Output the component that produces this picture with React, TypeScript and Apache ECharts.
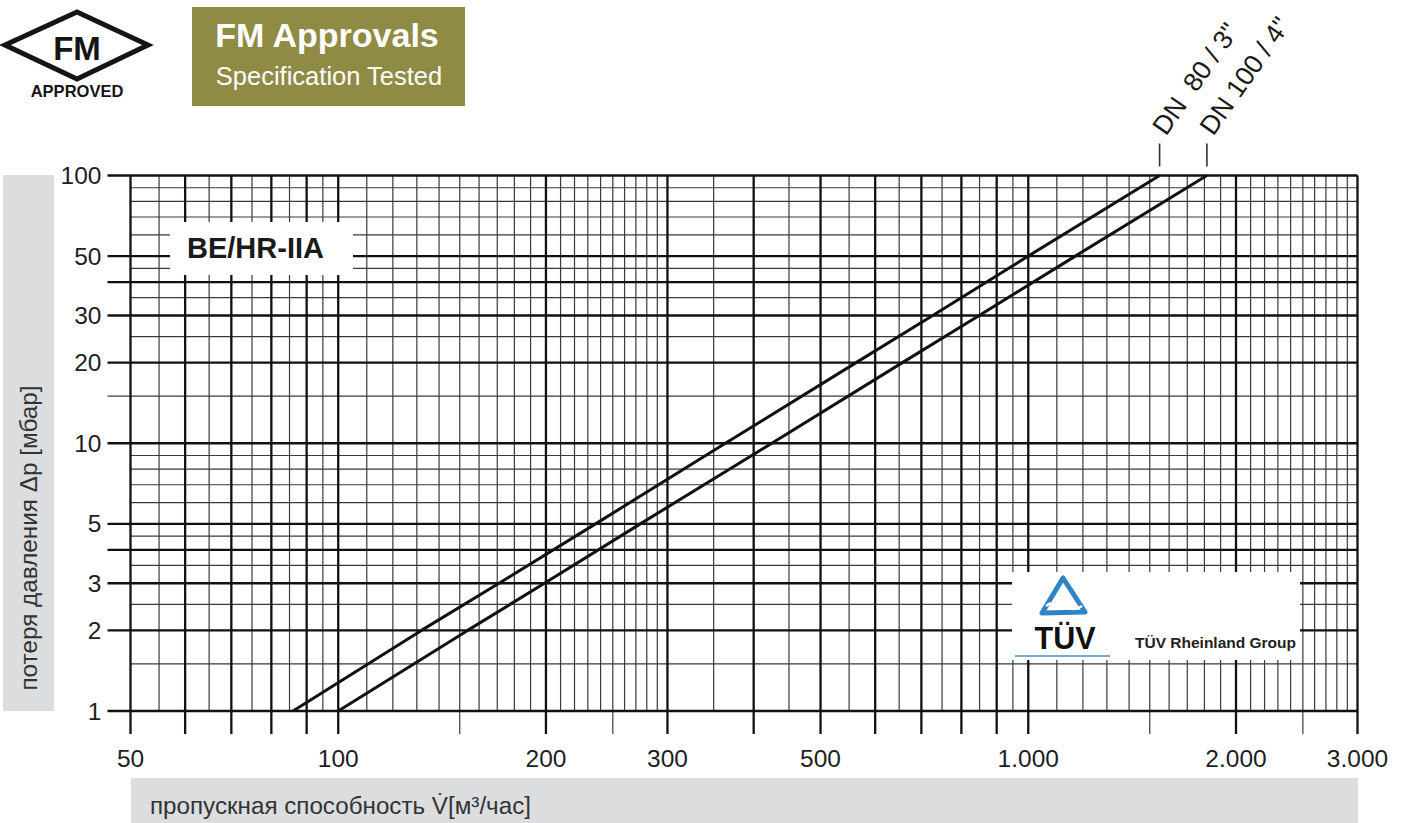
import React, { useEffect, useRef } from 'react';
import * as echarts from 'echarts';

// ---- data ----
const DP_POINTS = [1, 2, 3, 5, 10, 20, 30, 50, 100]; // mbar
const DN80_FLOW = [86, 132, 171, 236, 364, 563, 727, 1000, 1550]; // m3/h
const DN100_FLOW = [100, 154, 199, 274, 425, 657, 849, 1170, 1815]; // m3/h
const SERIES_NAMES = ['DN\u00a0 80 / 3"', 'DN 100 / 4"'];

const X_LABELS = [50, 100, 200, 300, 500, 1000, 2000, 3000];
const Y_LABELS = [1, 2, 3, 5, 10, 20, 30, 50, 100];

const X_MAJOR = [50, 60, 70, 80, 90, 100, 200, 300, 400, 500, 600, 700, 800, 900, 1000, 2000, 3000];
const X_TICKED = [150, 250, 1500, 2500];
const X_MINOR = [
  55, 65, 75, 85, 95,
  110, 120, 130, 140, 160, 170, 180, 190,
  210, 220, 230, 240, 260, 270, 280, 290,
  350, 450, 550, 650, 750, 850, 950,
  1100, 1200, 1300, 1400, 1600, 1700, 1800, 1900,
  2100, 2200, 2300, 2400, 2600, 2700, 2800, 2900,
];
const Y_MAJOR = [1, 2, 3, 4, 5, 10, 20, 30, 40, 50, 100];
const Y_TICKED = [15];
const Y_MINOR = [1.5, 2.5, 3.5, 4.5, 6, 7, 8, 9, 25, 35, 45, 60, 70, 80, 90];

const X_MIN = 50;
const X_MAX = 3000;
const Y_MIN = 1;
const Y_MAX = 100;

const FONT = '"Liberation Sans", Arial, Helvetica, sans-serif';
const TICK_LEN = 23;

type Kind = 'v' | 'h';
type Weight = 'major' | 'tick' | 'minor';

function gridSeries(kind: Kind, values: number[], weight: Weight) {
  const stroke = weight === 'major' ? '#111111' : '#3a3a3a';
  const lineWidth = weight === 'major' ? 2.3 : 1.2;
  return {
    type: 'custom',
    coordinateSystem: 'cartesian2d',
    silent: true,
    clip: false,
    z: weight === 'major' ? 3 : 2,
    encode: { x: 0, y: 1 },
    data: values.map((v) => (kind === 'v' ? [v, Y_MIN] : [X_MIN, v])),
    renderItem: (_params: any, api: any) => {
      const v = api.value(kind === 'v' ? 0 : 1);
      const a = kind === 'v' ? api.coord([v, Y_MIN]) : api.coord([X_MIN, v]);
      const b = kind === 'v' ? api.coord([v, Y_MAX]) : api.coord([X_MAX, v]);
      const ext = weight === 'minor' ? 0 : TICK_LEN;
      const shape =
        kind === 'v'
          ? { x1: a[0], y1: a[1] + ext, x2: b[0], y2: b[1] }
          : { x1: a[0] - ext, y1: a[1], x2: b[0], y2: b[1] };
      return { type: 'line', shape, style: { stroke, lineWidth } };
    },
  };
}

function curveSeries(name: string, flow: number[]) {
  return {
    type: 'line',
    name,
    data: flow.map((q, i) => [q, DP_POINTS[i]]),
    showSymbol: false,
    symbol: 'none',
    z: 5,
    lineStyle: { color: '#111111', width: 3 },
    silent: true,
  };
}

const TOP_FLOWS = [DN80_FLOW[DN80_FLOW.length - 1], DN100_FLOW[DN100_FLOW.length - 1]];

const dnSeries = {
  type: 'custom',
  coordinateSystem: 'cartesian2d',
  silent: true,
  clip: false,
  z: 6,
  encode: { x: 0, y: 1 },
  data: TOP_FLOWS.map((q) => [q, Y_MAX]),
  renderItem: (params: any, api: any) => {
    const p = api.coord([api.value(0), api.value(1)]);
    return {
      type: 'group',
      children: [
        {
          type: 'line',
          shape: { x1: p[0], y1: p[1] - 32, x2: p[0], y2: p[1] - 9 },
          style: { stroke: '#333333', lineWidth: 1.6 },
        },
        {
          type: 'text',
          x: p[0] - 1,
          y: p[1] - 44,
          rotation: (55 * Math.PI) / 180,
          style: {
            text: SERIES_NAMES[params.dataIndex],
            fontSize: 26.5,
            fontFamily: FONT,
            fill: '#1a1a1a',
            align: 'left',
            verticalAlign: 'middle',
          },
        },
      ],
    };
  },
};

function buildOption() {
  return {
    animation: false,
    backgroundColor: '#ffffff',
    textStyle: { fontFamily: FONT },
    grid: {
      left: 130.5,
      top: 175.5,
      width: 1227,
      height: 535.5,
      containLabel: false,
      outerBoundsMode: 'none',
    },
    xAxis: {
      type: 'log',
      logBase: 10,
      min: X_MIN,
      max: X_MAX,
      axisLine: { show: false },
      axisTick: { show: false },
      splitLine: { show: false },
      axisLabel: {
        customValues: X_LABELS,
        margin: 35,
        fontSize: 24.5,
        fontFamily: FONT,
        color: '#1e1e1e',
        formatter: (v: number) => {
          const r = Math.round(v);
          return r >= 1000 ? `${r / 1000}.000` : `${r}`;
        },
      },
    },
    yAxis: {
      type: 'log',
      logBase: 10,
      min: Y_MIN,
      max: Y_MAX,
      axisLine: { show: false },
      axisTick: { show: false },
      splitLine: { show: false },
      axisLabel: {
        customValues: Y_LABELS,
        margin: 29,
        fontSize: 24.5,
        fontFamily: FONT,
        color: '#1e1e1e',
        formatter: (v: number) => `${Math.round(v)}`,
      },
    },
    series: [
      gridSeries('v', X_MINOR, 'minor'),
      gridSeries('h', Y_MINOR, 'minor'),
      gridSeries('v', X_TICKED, 'tick'),
      gridSeries('h', Y_TICKED, 'tick'),
      gridSeries('v', X_MAJOR, 'major'),
      gridSeries('h', Y_MAJOR, 'major'),
      curveSeries(SERIES_NAMES[0], DN80_FLOW),
      curveSeries(SERIES_NAMES[1], DN100_FLOW),
      dnSeries,
    ],
    graphic: [
      // FM approved logo
      {
        type: 'polygon',
        z: 10,
        shape: { points: [[5, 45], [77, 12], [148, 45], [77, 79]] },
        style: { fill: 'none', stroke: '#151515', lineWidth: 5, lineJoin: 'miter' },
      },
      {
        type: 'text',
        z: 10,
        x: 77,
        y: 48,
        style: { text: 'FM', fontSize: 33, fontWeight: 'bold', fontFamily: FONT, fill: '#151515', align: 'center', verticalAlign: 'middle' },
      },
      {
        type: 'text',
        z: 10,
        x: 77,
        y: 91,
        style: { text: 'APPROVED', fontSize: 16.5, fontWeight: 'bold', fontFamily: FONT, fill: '#151515', align: 'center', verticalAlign: 'middle' },
      },
      // FM Approvals box
      {
        type: 'rect',
        z: 10,
        shape: { x: 192, y: 7, width: 273, height: 99 },
        style: { fill: '#8f8b45' },
      },
      {
        type: 'text',
        z: 11,
        x: 327,
        y: 35,
        style: { text: 'FM Approvals', fontSize: 34, fontWeight: 'bold', fontFamily: FONT, fill: '#ffffff', align: 'center', verticalAlign: 'middle' },
      },
      {
        type: 'text',
        z: 11,
        x: 329,
        y: 76,
        style: { text: 'Specification Tested', fontSize: 25.5, fontFamily: FONT, fill: '#ffffff', align: 'center', verticalAlign: 'middle' },
      },
      // BE/HR-IIA label
      {
        type: 'rect',
        z: 10,
        shape: { x: 170, y: 222, width: 183, height: 53 },
        style: { fill: '#ffffff' },
      },
      {
        type: 'text',
        z: 11,
        x: 187,
        y: 248,
        style: { text: 'BE/HR-IIA', fontSize: 29, fontWeight: 'bold', fontFamily: FONT, fill: '#1a1a1a', align: 'left', verticalAlign: 'middle' },
      },
      // TÜV box
      {
        type: 'rect',
        z: 10,
        shape: { x: 1012, y: 572, width: 288, height: 88 },
        style: { fill: '#ffffff' },
      },
      {
        type: 'polygon',
        z: 11,
        shape: { points: [[1063, 578], [1042, 613], [1085, 612]] },
        style: { fill: 'none', stroke: '#2f84c6', lineWidth: 5, lineJoin: 'round' },
      },
      {
        type: 'bezierCurve',
        z: 12,
        shape: { x1: 1046, y1: 606, x2: 1082, y2: 606, cpx1: 1058, cpy1: 596, cpx2: 1068, cpy2: 616 },
        style: { fill: 'none', stroke: '#ffffff', lineWidth: 2.5 },
      },
      {
        type: 'text',
        z: 11,
        x: 1065,
        y: 638,
        style: { text: 'TÜV', fontSize: 30.5, fontWeight: 'bold', fontFamily: FONT, fill: '#111111', align: 'center', verticalAlign: 'middle' },
      },
      {
        type: 'line',
        z: 11,
        shape: { x1: 1015, y1: 656, x2: 1110, y2: 656 },
        style: { stroke: '#4a8ac4', lineWidth: 1.5 },
      },
      {
        type: 'text',
        z: 11,
        x: 1135,
        y: 642,
        style: { text: 'TÜV Rheinland Group', fontSize: 15.5, fontWeight: 'bold', fontFamily: FONT, fill: '#222222', align: 'left', verticalAlign: 'middle' },
      },
      // Y axis title box
      {
        type: 'rect',
        z: 1,
        shape: { x: 3, y: 175, width: 51, height: 536 },
        style: { fill: '#dcdddf' },
      },
      {
        type: 'text',
        z: 2,
        x: 28,
        y: 538,
        rotation: Math.PI / 2,
        style: { text: 'потеря давления Δp [мбар]', fontSize: 24.3, fontFamily: FONT, fill: '#333333', align: 'center', verticalAlign: 'middle' },
      },
      // X axis title box
      {
        type: 'rect',
        z: 1,
        shape: { x: 131, y: 778, width: 1227, height: 45 },
        style: { fill: '#dcdddf' },
      },
      {
        type: 'text',
        z: 2,
        x: 150,
        y: 805,
        style: { text: 'пропускная способность V\u0307[м³/час]', fontSize: 24.2, fontFamily: FONT, fill: '#333333', align: 'left', verticalAlign: 'middle' },
      },
    ],
  };
}

export default function App() {
  const ref = useRef<HTMLDivElement | null>(null);
  useEffect(() => {
    if (!ref.current) return;
    const chart = echarts.init(ref.current, null, { renderer: 'svg' });
    chart.setOption(buildOption() as any);
    return () => chart.dispose();
  }, []);
  return (
    <div
      ref={ref}
      style={{ position: 'fixed', left: 0, top: 0, width: 1404, height: 823, background: '#ffffff' }}
    />
  );
}
